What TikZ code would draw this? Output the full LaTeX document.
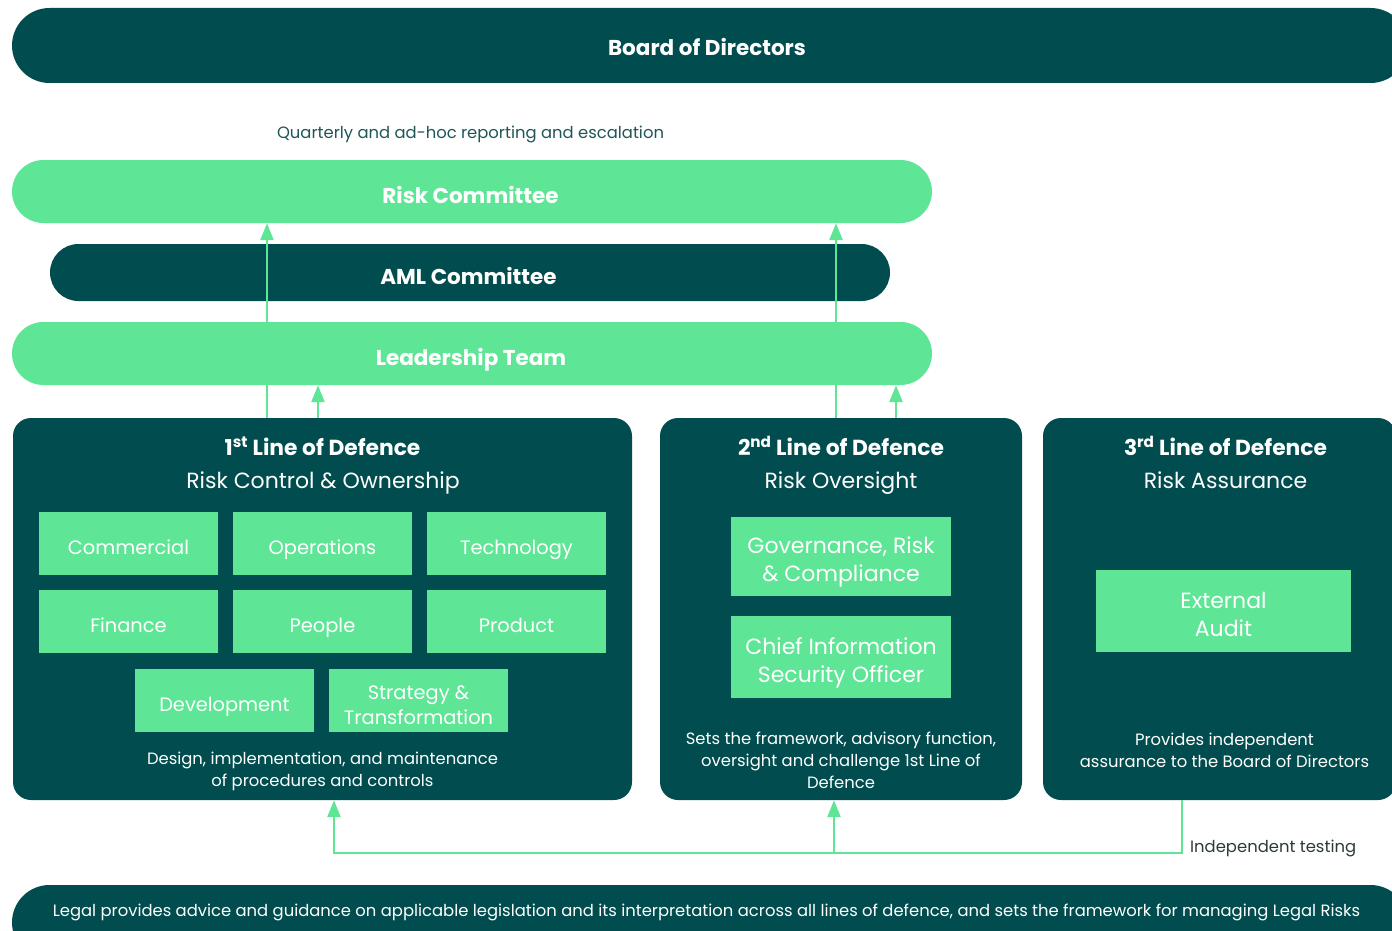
\documentclass[tikz,border=0pt]{standalone}
\usepackage{fontspec}
\setmainfont{Poppins}
\usetikzlibrary{arrows.meta}
\definecolor{darkteal}{HTML}{004C4E}
\definecolor{mint}{HTML}{5EE696}
\definecolor{notecol}{HTML}{1F5656}
\definecolor{graytext}{HTML}{2E3A3A}
\newcommand{\fs}[2]{\fontsize{#1}{#2}\selectfont}
\begin{document}
\begin{tikzpicture}[x=1pt,y=-1pt,
  panel/.style={inner sep=0pt},
  % text nodes are placed by the baseline of their last line
  txt/.style={inner sep=0pt, anchor=base, align=center, text=white},
  barlabel/.style={txt, font=\bfseries\fs{21.5}{24}},
  lodbox/.style={fill=darkteal, rounded corners=18pt, inner sep=0pt, minimum height=382pt},
  unit/.style={fill=mint, inner sep=0pt},
  unitlabel/.style={txt, font=\fs{19.4}{24.5}},
  biglabel/.style={txt, font=\fs{22}{28}},
  head/.style={txt, font=\bfseries\fs{21.8}{24}},
  sub/.style={txt, font=\fs{22}{24}},
  desc/.style={txt, font=\fs{16.4}{21.7}},
  link/.style={draw=mint, line width=2.6pt},
  arr/.style={link, -{Triangle[width=13pt,length=17pt]}}
]
\useasboundingbox (0,0) rectangle (1392,931);
\clip (0,0) rectangle (1392,931);

% governance bars
\node[panel, fill=darkteal, minimum width=1396pt, minimum height=75pt, rounded corners=37.5pt] (bod) at (710,45.5) {};
\node[barlabel] (bodtxt) at (707,55.5) {Board of Directors};
\node[txt, text=notecol, font=\fs{16.4}{20}] (note) at (470.5,139) {Quarterly and ad-hoc reporting and escalation};
\node[panel, fill=mint, minimum width=920pt, minimum height=63pt, rounded corners=31.5pt] (rc) at (472,191.5) {};
\node[barlabel] (rctxt) at (470.5,203) {Risk Committee};
\node[panel, fill=darkteal, minimum width=840pt, minimum height=57pt, rounded corners=28.5pt] (aml) at (470,272.5) {};
\node[barlabel] (amltxt) at (468.5,284) {AML Committee};
\node[panel, fill=mint, minimum width=920pt, minimum height=63pt, rounded corners=31.5pt] (lt) at (472,353.5) {};
\node[barlabel] (lttxt) at (471,365.5) {Leadership Team};

% lines of defence
\node[lodbox, minimum width=619pt] (l1) at (322.5,609) {};
\node[lodbox, minimum width=362pt] (l2) at (841,609) {};
\node[lodbox, minimum width=353pt] (l3) at (1219.5,609) {};

\node[head] (h1) at (322.5,455.5) {1\textsuperscript{st} Line of Defence};
\node[sub]  (s1) at (323,488) {Risk Control \& Ownership};
\node[head] (h2) at (841,455.5) {2\textsuperscript{nd} Line of Defence};
\node[sub]  (s2) at (841,488) {Risk Oversight};
\node[head] (h3) at (1225.5,455.5) {3\textsuperscript{rd} Line of Defence};
\node[sub]  (s3) at (1225.5,488) {Risk Assurance};

% first line units
\begin{scope}[every node/.append style={minimum width=179pt, minimum height=63pt}]
\node[unit] (com) at (128.5,543.5) {};
\node[unit] (ops) at (322.5,543.5) {};
\node[unit] (tec) at (516.5,543.5) {};
\node[unit] (fin) at (128.5,621.5) {};
\node[unit] (peo) at (322.5,621.5) {};
\node[unit] (pro) at (516.5,621.5) {};
\node[unit] (dev) at (224.5,700.5) {};
\node[unit] (str) at (418.5,700.5) {};
\end{scope}
\node[unitlabel] (comtxt) at (com |- 0,554) {Commercial};
\node[unitlabel] (opstxt) at (ops |- 0,554) {Operations};
\node[unitlabel] (tectxt) at (tec |- 0,554) {Technology};
\node[unitlabel] (fintxt) at (fin |- 0,632) {Finance};
\node[unitlabel] (peotxt) at (peo |- 0,632) {People};
\node[unitlabel] (protxt) at (pro |- 0,632) {Product};
\node[unitlabel] (devtxt) at (dev |- 0,711.5) {Development};
\node[unitlabel] (strtxt) at (str |- 0,724) {Strategy \&\\Transformation};

% second and third line units
\node[unit, minimum width=220pt, minimum height=79pt] (grc) at (841,556.5) {};
\node[biglabel] (grctxt) at (841,581.7) {Governance, Risk\\\& Compliance};
\node[unit, minimum width=220pt, minimum height=82pt] (ciso) at (841,657) {};
\node[biglabel] (cisotxt) at (841,682.7) {Chief Information\\Security Officer};
\node[unit, minimum width=255pt, minimum height=82pt] (ext) at (1223.5,611) {};
\node[biglabel] (exttxt) at (1223.5,636.5) {External\\Audit};

\node[desc] (d1) at (322.5,786.5) {Design, implementation, and maintenance\\of procedures and controls};
\node[desc] (d2) at (841,788) {Sets the framework, advisory function,\\oversight and challenge 1st Line of\\Defence};
\node[desc] (d3) at (1224.5,767) {Provides independent\\assurance to the Board of Directors};

% legal bar
\node[panel, fill=darkteal, minimum width=1396pt, minimum height=75pt, rounded corners=37.5pt] (legal) at (710,922.5) {};
\node[txt, font=\fs{16.4}{20}] (legaltxt) at (706.5,916.7) {Legal provides advice and guidance on applicable legislation and its interpretation across all lines of defence, and sets the framework for managing Legal Risks};

% reporting connectors
\coordinate (u1) at (267,0);
\coordinate (u2) at (318,0);
\coordinate (u3) at (836,0);
\coordinate (u4) at (896,0);
\draw[arr] (u1 |- l1.north) -- (u1 |- rc.south);
\draw[arr] (u2 |- l1.north) -- (u2 |- lt.south);
\draw[arr] (u3 |- l2.north) -- (u3 |- rc.south);
\draw[arr] (u4 |- l2.north) -- (u4 |- lt.south);

% independent testing
\coordinate (jr) at (1182,853);
\coordinate (jm) at (834,853);
\coordinate (jl) at (334,853);
\draw[arr] (jr |- l3.south) -- (jr) -- (jl) -- (jl |- l1.south);
\draw[arr] (jm) -- (jm |- l2.south);
\node[inner sep=0pt, anchor=base west, text=graytext, font=\fs{16.4}{20}] (itest) at (1190,852.7) {Independent testing};
\end{tikzpicture}
\end{document}
